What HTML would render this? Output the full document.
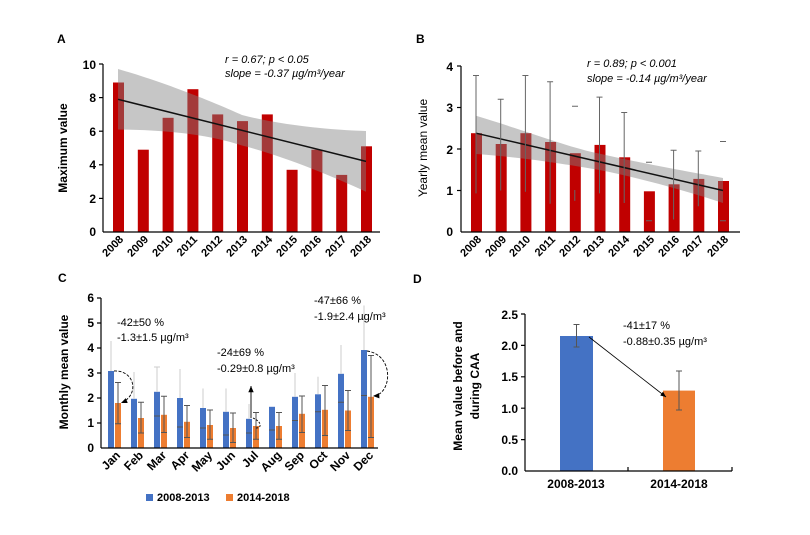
<!DOCTYPE html>
<html><head><meta charset="utf-8"><style>body{margin:0;background:#fff}svg{display:block}text{font-family:"Liberation Sans",Arial,sans-serif}</style></head><body>
<svg width="810" height="535" viewBox="0 0 810 535" xmlns="http://www.w3.org/2000/svg">
<defs><marker id="ah" markerWidth="8" markerHeight="8" refX="7" refY="4" orient="auto"><path d="M0,1 L7,4 L0,7 z" fill="#000"/></marker></defs>
<!-- Panel A -->
<text x="57" y="43" font-size="12" font-weight="bold">A</text>
<g fill="#c00000">
<rect x="113" y="82.5" width="11" height="149.5"/><rect x="137.8" y="149.7" width="11" height="82.3"/><rect x="162.6" y="117.8" width="11" height="114.2"/><rect x="187.4" y="89.2" width="11" height="142.8"/><rect x="212.2" y="114.4" width="11" height="117.6"/><rect x="237" y="121.1" width="11" height="110.9"/><rect x="261.8" y="114.4" width="11" height="117.6"/><rect x="286.6" y="169.8" width="11" height="62.2"/><rect x="311.4" y="149.7" width="11" height="82.3"/><rect x="336.2" y="174.9" width="11" height="57.1"/><rect x="361" y="146.3" width="11" height="85.7"/>
</g>
<path d="M118,69 C170,84 220,105 242,115 C280,125 330,130 366,131 L366,191.7 C330,175 280,155 242,145.5 C210,135 170,130 118,129.5 Z" fill="#808080" opacity="0.45"/>
<line x1="118" y1="99.3" x2="366" y2="161.4" stroke="#111" stroke-width="1.5"/>
<g stroke="#000" stroke-width="1.2"><line x1="103" y1="64" x2="103" y2="232"/><line x1="103" y1="232" x2="380" y2="232"/>
<line x1="99" y1="64" x2="103" y2="64"/><line x1="99" y1="97.6" x2="103" y2="97.6"/><line x1="99" y1="131.2" x2="103" y2="131.2"/><line x1="99" y1="164.8" x2="103" y2="164.8"/><line x1="99" y1="198.4" x2="103" y2="198.4"/></g>
<g font-size="12" font-weight="bold" text-anchor="end"><text x="96" y="69">10</text><text x="96" y="102">8</text><text x="96" y="136">6</text><text x="96" y="169">4</text><text x="96" y="203">2</text><text x="96" y="236">0</text></g>
<text transform="translate(67,148) rotate(-90)" font-size="12" font-weight="bold" text-anchor="middle">Maximum value</text>
<g font-size="11" font-style="italic"><text x="225" y="63">r = 0.67; p &lt; 0.05</text><text x="225" y="77">slope = -0.37 µg/m³/year</text></g>
<g font-size="11" font-weight="bold" text-anchor="end">
<text transform="translate(124,240) rotate(-45)">2008</text><text transform="translate(149,240) rotate(-45)">2009</text><text transform="translate(174,240) rotate(-45)">2010</text><text transform="translate(198,240) rotate(-45)">2011</text><text transform="translate(223,240) rotate(-45)">2012</text><text transform="translate(248,240) rotate(-45)">2013</text><text transform="translate(273,240) rotate(-45)">2014</text><text transform="translate(298,240) rotate(-45)">2015</text><text transform="translate(322,240) rotate(-45)">2016</text><text transform="translate(347,240) rotate(-45)">2017</text><text transform="translate(372,240) rotate(-45)">2018</text></g>

<!-- Panel B -->
<text x="416" y="43" font-size="12" font-weight="bold">B</text>
<g fill="#c00000">
<rect x="471" y="133.2" width="11" height="98.8"/><rect x="495.7" y="144" width="11" height="88"/><rect x="520.4" y="133.2" width="11" height="98.8"/><rect x="545.1" y="142" width="11" height="90"/><rect x="569.8" y="153.2" width="11" height="78.8"/><rect x="594.5" y="144.9" width="11" height="87.1"/><rect x="619.2" y="157.3" width="11" height="74.7"/><rect x="643.9" y="191.3" width="11" height="40.7"/><rect x="668.6" y="184.3" width="11" height="47.7"/><rect x="693.3" y="178.9" width="11" height="53.1"/><rect x="718" y="181" width="11" height="51"/>
</g>
<path d="M476,115.8 C530,132 570,148 599.5,153.6 C640,163 690,172 723,178 L723,203 C690,192 640,178 599.5,170 C570,165 530,158 476,154 Z" fill="#808080" opacity="0.45"/>
<line x1="476" y1="133.2" x2="723" y2="190.5" stroke="#111" stroke-width="1.5"/>
<g stroke="#666" stroke-width="1">
<path d="M476,193.4V75.5M473,75.5h6M500.7,190.5V99.2M497.7,99.2h6M525.4,191.7V75.5M522.4,75.5h6M550.1,203.8V81.8M547.1,81.8h6M572,106.3h6M574.8,200.9V190M599.5,193.4V97.1M596.5,97.1h6M624.2,203V112.5M621.2,112.5h6M646,162.3h6M646,220.8h6M673.6,219.5V150.2M670.6,150.2h6M698.3,206.3V151M695.3,151h6M720,141.5h6M720,220.8h6"/></g>
<g stroke="#000" stroke-width="1.2"><line x1="461" y1="66" x2="461" y2="232"/><line x1="461" y1="232" x2="740" y2="232"/>
<line x1="457" y1="66" x2="461" y2="66"/><line x1="457" y1="107.5" x2="461" y2="107.5"/><line x1="457" y1="149" x2="461" y2="149"/><line x1="457" y1="190.5" x2="461" y2="190.5"/></g>
<g font-size="12" font-weight="bold" text-anchor="end"><text x="453" y="71">4</text><text x="453" y="112">3</text><text x="453" y="154">2</text><text x="453" y="195">1</text><text x="453" y="236">0</text></g>
<text transform="translate(427,148) rotate(-90)" font-size="12" text-anchor="middle">Yearly mean value</text>
<g font-size="11" font-style="italic"><text x="587" y="67">r = 0.89; p &lt; 0.001</text><text x="587" y="82">slope = -0.14 µg/m³/year</text></g>
<g font-size="11" font-weight="bold" text-anchor="end">
<text transform="translate(482,240) rotate(-45)">2008</text><text transform="translate(507,240) rotate(-45)">2009</text><text transform="translate(531,240) rotate(-45)">2010</text><text transform="translate(556,240) rotate(-45)">2011</text><text transform="translate(581,240) rotate(-45)">2012</text><text transform="translate(605,240) rotate(-45)">2013</text><text transform="translate(630,240) rotate(-45)">2014</text><text transform="translate(655,240) rotate(-45)">2015</text><text transform="translate(680,240) rotate(-45)">2016</text><text transform="translate(704,240) rotate(-45)">2017</text><text transform="translate(729,240) rotate(-45)">2018</text></g>

<!-- Panel C -->
<text x="58" y="282" font-size="12" font-weight="bold">C</text>
<g fill="#4472c4">
<rect x="108" y="371" width="6" height="77"/><rect x="131" y="398.8" width="6" height="49.2"/><rect x="154" y="391.8" width="6" height="56.2"/><rect x="177" y="398" width="6" height="50"/><rect x="200" y="408" width="6" height="40"/><rect x="223" y="411.8" width="6" height="36.2"/><rect x="246" y="418.8" width="6" height="29.2"/><rect x="269" y="406.8" width="6" height="41.2"/><rect x="292" y="396.8" width="6" height="51.2"/><rect x="315" y="394.3" width="6" height="53.7"/><rect x="338" y="373.8" width="6" height="74.2"/><rect x="361" y="350" width="6" height="98"/></g>
<g fill="#ed7d31">
<rect x="115" y="403" width="6" height="45"/><rect x="138" y="418" width="6" height="30"/><rect x="161" y="414.8" width="6" height="33.2"/><rect x="184" y="421.8" width="6" height="26.2"/><rect x="207" y="425" width="6" height="23"/><rect x="230" y="428" width="6" height="20"/><rect x="253" y="426" width="6" height="22"/><rect x="276" y="426" width="6" height="22"/><rect x="299" y="413.8" width="6" height="34.2"/><rect x="322" y="409.8" width="6" height="38.2"/><rect x="345" y="410.5" width="6" height="37.5"/><rect x="368" y="396.8" width="6" height="51.2"/></g>
<g stroke="#ccc" stroke-width="1"><path d="M111,371V341M134,399V372M154,367h6M157,392V367M180,398V369M203,408V388.5M226,412V388.5M249,419V404M295,397V373M318,394V376.8M341,374V345M364,350V305.5"/></g>
<g stroke="#555" stroke-width="1"><path d="M154,416h6M177,427h6M200,428h6M223,435h6M246,433h6M269,430h6M292,420.5h6M315,411.8h6M338,402.3h6M361,395.5h6"/>
<path d="M118,382.5V423.8M115,382.5h6M115,423.8h6M141,402.3V433M138,402.3h6M138,433h6M164,396.3V432.5M161,396.3h6M161,432.5h6M187,405.5V437.5M184,405.5h6M184,437.5h6M210,410V439.3M207,410h6M207,439.3h6M233,413V442.5M230,413h6M230,442.5h6M256,412.5V439.3M253,412.5h6M253,439.3h6M279,412.5V439.3M276,412.5h6M276,439.3h6M302,396V432.5M299,396h6M299,432.5h6M325,385.5V435.5M322,385.5h6M322,435.5h6M348,390.5V430.5M345,390.5h6M345,430.5h6M371,355.5V437.5M368,355.5h6M368,437.5h6"/></g>
<g fill="none" stroke="#000" stroke-width="0.9">
<path d="M114,371 C135,370 140,395 121,403" stroke-dasharray="3,1.5" marker-end="url(#ah)"/>
<path d="M251,418 L251,386" marker-end="url(#ah)"/>
<path d="M253,418 C262,422 262,428 256,428" stroke-dasharray="2,1.5"/>
<path d="M367,351 C395,355 392,395 373,396" stroke-dasharray="3,1.5" marker-end="url(#ah)"/></g>
<g stroke="#000" stroke-width="1.2"><line x1="101" y1="298" x2="101" y2="448"/><line x1="101" y1="448" x2="378" y2="448"/>
<path d="M97,298h4M97,323h4M97,348h4M97,373h4M97,398h4M97,423h4"/></g>
<g font-size="12" font-weight="bold" text-anchor="end"><text x="94" y="302">6</text><text x="94" y="327">5</text><text x="94" y="352">4</text><text x="94" y="377">3</text><text x="94" y="402">2</text><text x="94" y="427">1</text><text x="94" y="452">0</text></g>
<text transform="translate(68,372) rotate(-90)" font-size="12" font-weight="bold" text-anchor="middle">Monthly mean value</text>
<g font-size="11"><text x="117" y="326">-42±50 %</text><text x="117" y="341">-1.3±1.5 µg/m³</text><text x="217" y="356">-24±69 %</text><text x="217" y="372">-0.29±0.8 µg/m³</text><text x="314" y="304">-47±66 %</text><text x="314" y="320">-1.9±2.4 µg/m³</text></g>
<g font-size="12" font-weight="bold" text-anchor="end">
<text transform="translate(121,456) rotate(-45)">Jan</text><text transform="translate(144,456) rotate(-45)">Feb</text><text transform="translate(167,456) rotate(-45)">Mar</text><text transform="translate(190,456) rotate(-45)">Apr</text><text transform="translate(213,456) rotate(-45)">May</text><text transform="translate(236,456) rotate(-45)">Jun</text><text transform="translate(259,456) rotate(-45)">Jul</text><text transform="translate(282,456) rotate(-45)">Aug</text><text transform="translate(305,456) rotate(-45)">Sep</text><text transform="translate(328,456) rotate(-45)">Oct</text><text transform="translate(351,456) rotate(-45)">Nov</text><text transform="translate(374,456) rotate(-45)">Dec</text></g>
<rect x="146" y="494" width="7" height="7" fill="#4472c4"/><text x="157" y="501" font-size="11" font-weight="bold">2008-2013</text>
<rect x="226" y="494" width="7" height="7" fill="#ed7d31"/><text x="237" y="501" font-size="11" font-weight="bold">2014-2018</text>

<!-- Panel D -->
<text x="413" y="283" font-size="12" font-weight="bold">D</text>
<rect x="560" y="336" width="33" height="135" fill="#4472c4"/>
<rect x="663" y="390.6" width="32" height="80.4" fill="#ed7d31"/>
<g stroke="#555" stroke-width="1"><path d="M576.5,324.5V347M573.5,324.5h6M573.5,347h6M679,371V410M676,371h6M676,410h6"/></g>
<line x1="589" y1="337" x2="666" y2="397" stroke="#000" stroke-width="0.8" marker-end="url(#ah)"/>
<g stroke="#000" stroke-width="1.2"><line x1="525" y1="314" x2="525" y2="471"/><line x1="525" y1="471" x2="732" y2="471"/>
<path d="M521,314h4M521,345.4h4M521,376.8h4M521,408.2h4M521,439.6h4M628,471v-4M732,471v-4"/></g>
<g font-size="12" font-weight="bold" text-anchor="end"><text x="518" y="319">2.5</text><text x="518" y="350">2.0</text><text x="518" y="381">1.5</text><text x="518" y="413">1.0</text><text x="518" y="444">0.5</text><text x="518" y="475">0.0</text></g>
<g font-size="12" font-weight="bold" text-anchor="middle"><text transform="translate(462,386) rotate(-90)">Mean value before and</text><text transform="translate(479,386) rotate(-90)">during CAA</text>
<text x="576" y="488">2008-2013</text><text x="679" y="488">2014-2018</text></g>
<g font-size="11"><text x="623" y="329">-41±17 %</text><text x="623" y="345">-0.88±0.35 µg/m³</text></g>
</svg>
</body></html>
